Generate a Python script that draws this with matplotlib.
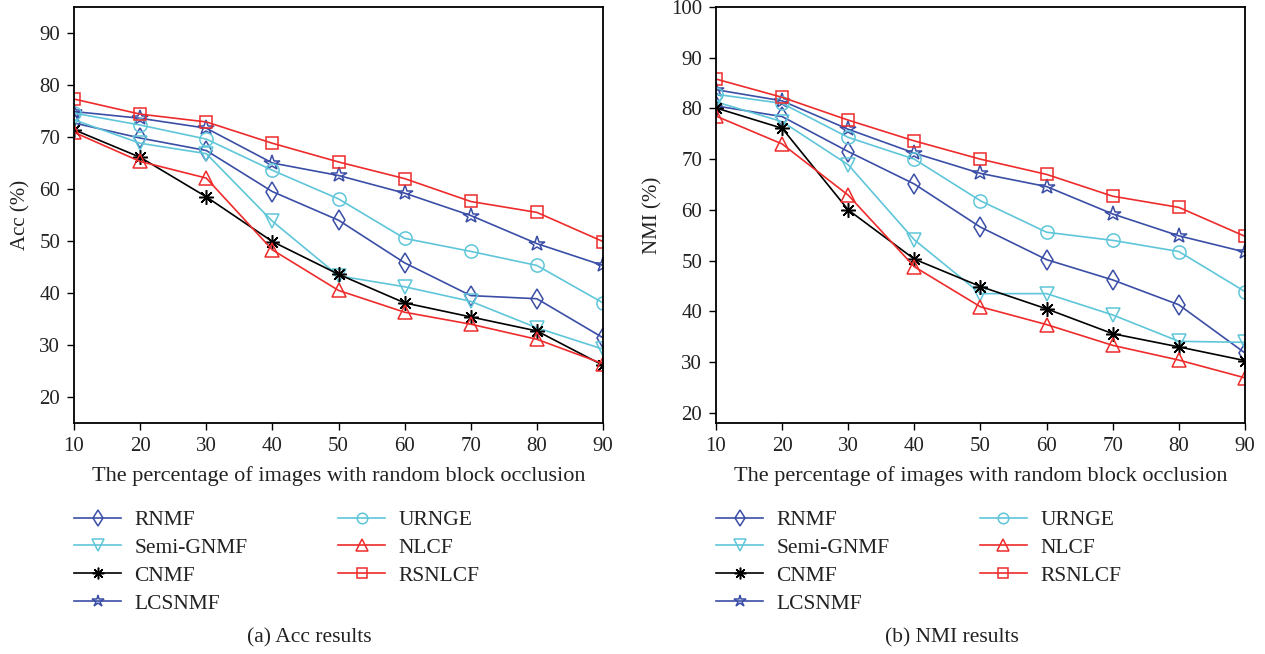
import matplotlib
matplotlib.use("Agg")
import matplotlib.pyplot as plt

plt.rcParams["font.family"] = ["Liberation Serif", "DejaVu Serif"]

occlusion = [10, 20, 30, 40, 50, 60, 70, 80, 90]
methods = ["RNMF", "Semi-GNMF", "CNMF", "LCSNMF", "URNGE", "NLCF", "RSNLCF"]

acc_rnmf = [72.7, 69.8, 67.4, 59.5, 54.0, 45.8, 39.5, 38.9, 31.4]
acc_semi = [73.3, 68.8, 66.8, 53.8, 43.3, 41.2, 38.4, 33.3, 29.2]
acc_cnmf = [71.4, 66.1, 58.5, 49.9, 43.6, 38.1, 35.4, 32.7, 26.1]
acc_lcsnmf = [74.9, 73.6, 71.7, 65.0, 62.6, 59.2, 54.9, 49.5, 45.3]
acc_urnge = [74.6, 72.3, 69.6, 63.6, 58.1, 50.5, 48.0, 45.3, 38.1]
acc_nlcf = [70.9, 65.3, 62.1, 48.3, 40.5, 36.3, 34.0, 31.1, 26.4]
acc_rsnlcf = [77.3, 74.4, 72.9, 68.8, 65.2, 62.0, 57.6, 55.5, 49.9]

nmi_rnmf = [80.5, 78.4, 71.5, 65.1, 56.6, 50.2, 46.2, 41.3, 31.8]
nmi_semi = [81.3, 77.4, 68.9, 54.1, 43.5, 43.5, 39.3, 34.1, 33.9]
nmi_cnmf = [80.1, 76.1, 60.0, 50.3, 44.9, 40.5, 35.6, 33.0, 30.3]
nmi_lcsnmf = [83.7, 81.5, 75.9, 71.2, 67.2, 64.6, 59.2, 54.9, 51.7]
nmi_urnge = [82.8, 81.0, 74.3, 70.0, 61.8, 55.6, 54.0, 51.8, 43.9]
nmi_nlcf = [78.5, 73.0, 62.9, 48.8, 40.9, 37.4, 33.3, 30.4, 26.9]
nmi_rsnlcf = [85.8, 82.2, 77.7, 73.6, 70.0, 67.0, 62.7, 60.5, 54.8]

acc = [acc_rnmf, acc_semi, acc_cnmf, acc_lcsnmf, acc_urnge, acc_nlcf, acc_rsnlcf]
nmi = [nmi_rnmf, nmi_semi, nmi_cnmf, nmi_lcsnmf, nmi_urnge, nmi_nlcf, nmi_rsnlcf]

DARK = "#3b4ea6"
CYAN = "#5fc6d9"
RED = "#ee2b2b"
STYLE = {
    "RNMF": dict(color=DARK, marker="d", ms=10.5),
    "Semi-GNMF": dict(color=CYAN, marker="v", ms=10.5),
    "CNMF": dict(color="black", marker=(8, 2, 0), ms=10.5),
    "LCSNMF": dict(color=DARK, marker="*", ms=11.5),
    "URNGE": dict(color=CYAN, marker="o", ms=9.5),
    "NLCF": dict(color=RED, marker="^", ms=10.5),
    "RSNLCF": dict(color=RED, marker="s", ms=8.5),
}
TXT = "#222222"

fig = plt.figure(figsize=(12.65, 6.54), dpi=100)
W, H = 1265, 654
panels = [
    (74, acc, "Acc (%)", (15, 95), range(20, 91, 10), "(a) Acc results", 309),
    (716, nmi, "NMI (%)", (18, 100), range(20, 101, 10), "(b) NMI results", 952),
]

for x0, data, ylabel, ylim, yticks, caption, cx in panels:
    ax = fig.add_axes([x0 / W, 1 - 423 / H, 529 / W, 416 / H])
    for name, vals in zip(methods, data):
        st = STYLE[name]
        ax.plot(occlusion, vals, color=st["color"], lw=1.2, marker=st["marker"],
                ms=st["ms"], mfc="none", mec=st["color"], mew=1.1, label=name)
    ax.set_xlim(10, 90)
    ax.set_ylim(*ylim)
    ax.set_xticks(occlusion)
    ax.set_yticks(list(yticks))
    ax.tick_params(direction="out", length=5, width=1, labelsize=15,
                   color="black", labelcolor=TXT, pad=5)
    for s in ax.spines.values():
        s.set_linewidth(1.3)
    ax.set_ylabel(ylabel, fontsize=15, color=TXT, labelpad=6)
    ax.set_xlabel("The percentage of images with random block occlusion",
                  fontsize=16, color=TXT, labelpad=7)
    ax.legend(loc="upper left", bbox_to_anchor=(x0 / W, 1 - 510 / H),
              bbox_transform=fig.transFigure, ncol=2, frameon=False,
              fontsize=15.5, handlelength=2.2, handletextpad=0.6,
              columnspacing=4.2, labelspacing=0.36, borderpad=0,
              borderaxespad=0, labelcolor=TXT, markerscale=0.8)
    fig.text(cx / W, 1 - 638 / H, caption, ha="center", va="center",
             fontsize=15.5, color=TXT)

fig.savefig("out.png", dpi=100)
